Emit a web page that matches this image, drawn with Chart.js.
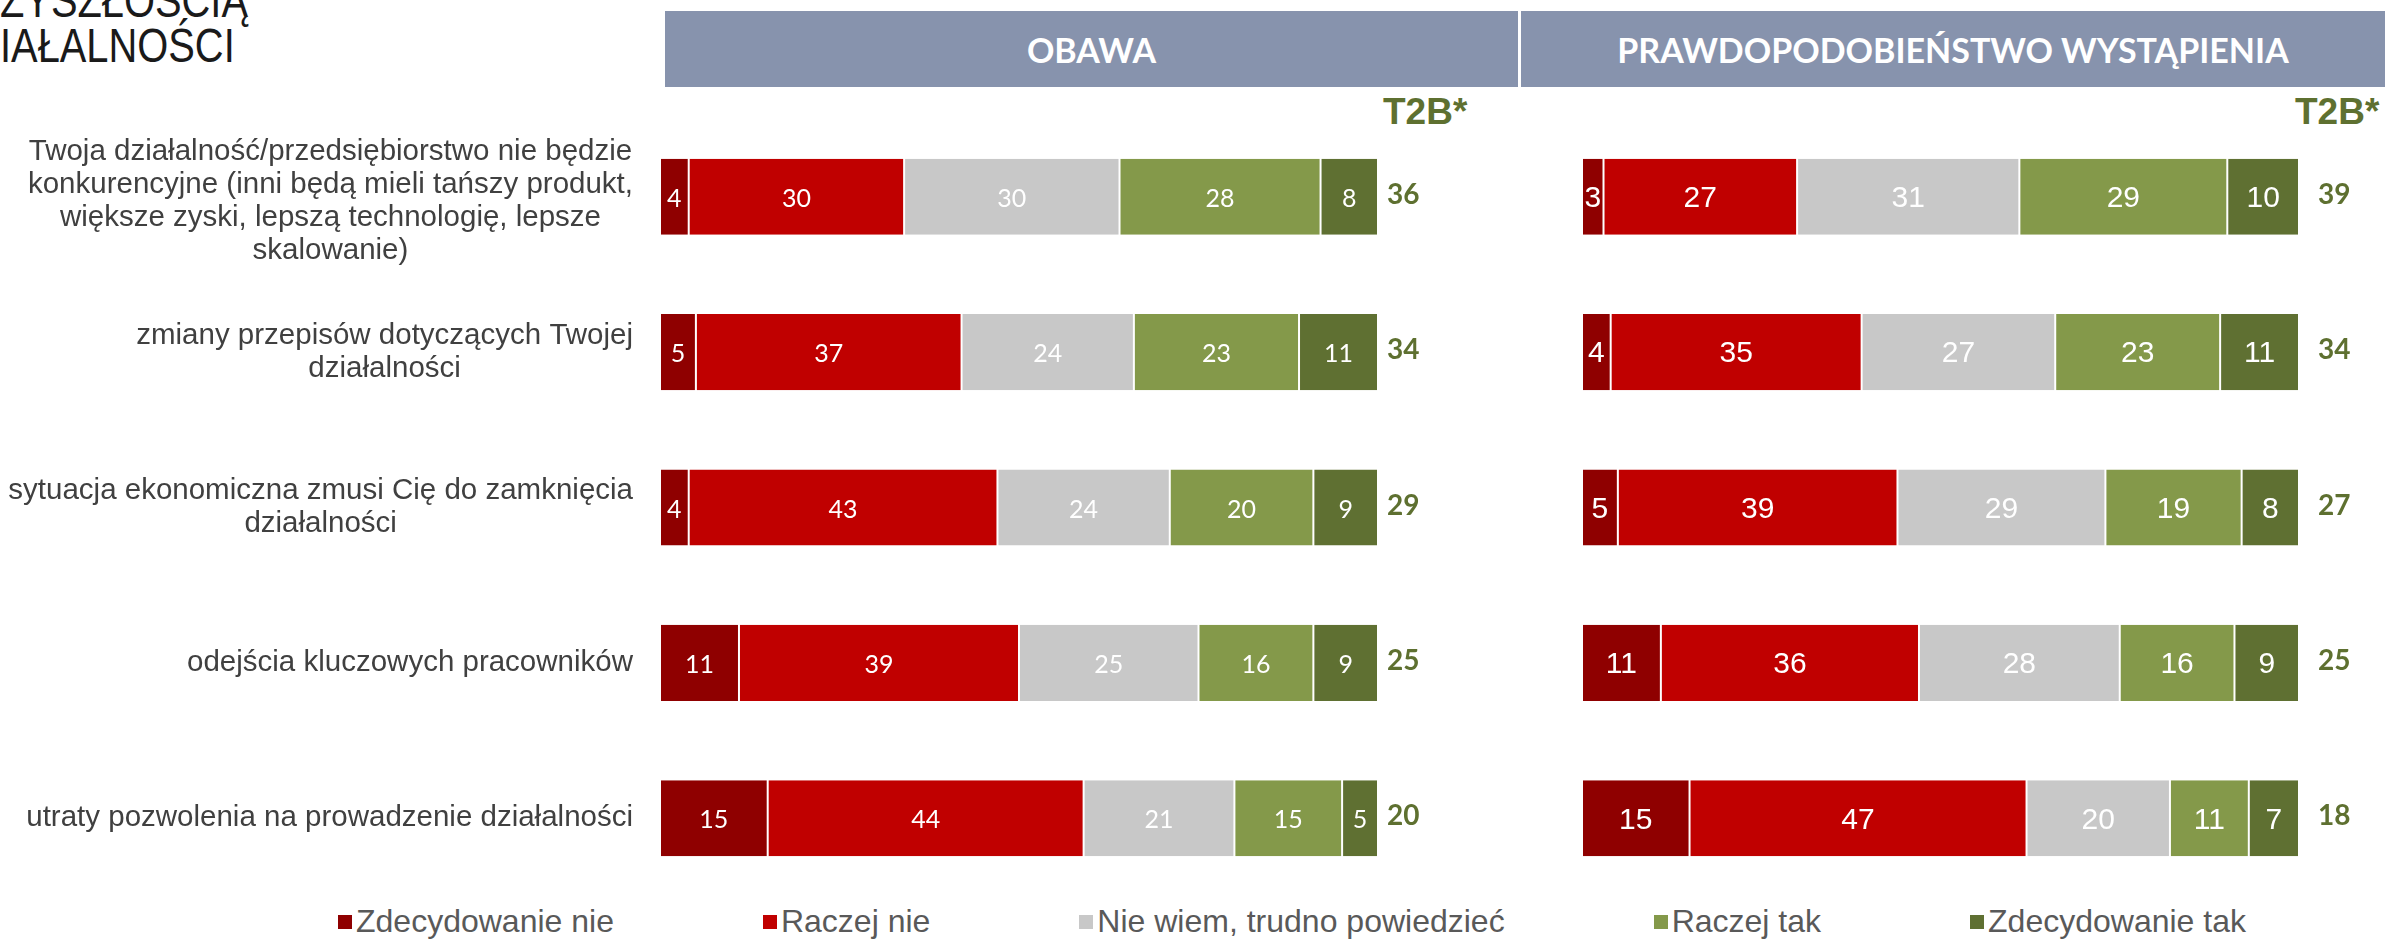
<!DOCTYPE html>
<html lang="pl">
<head>
<meta charset="utf-8">
<title>Obawy związane z przyszłością działalności</title>
<script src="https://cdn.jsdelivr.net/npm/chart.js@4.4.1/dist/chart.umd.min.js"></script>
<style>
    body { margin: 0; width: 2385px; height: 939px; overflow: hidden; background: #fff; position: relative; font-family: 'Liberation Sans', Arial, sans-serif; }
    .title { position: absolute; left: 0; top: -22px; font-size: 48px; line-height: 45px; color: #1a1a1a; transform: scaleX(0.83); transform-origin: left top; white-space: nowrap; }
    .panel-head { position: absolute; top: 11px; height: 76px; background: #8793ad; color: #fff; font-family: Lato, 'Open Sans', sans-serif; font-weight: bold; font-size: 34px; display: flex; align-items: center; justify-content: center; }
    .t2b-head { position: absolute; top: 91px; font-size: 37px; font-weight: bold; color: #5e7030; }
    canvas { position: absolute; }
    .legend { position: absolute; left: 338px; top: 903px; display: flex; gap: 149px; font-size: 32px; color: #595959; white-space: nowrap; }
    .legend span { display: flex; align-items: center; }
    .legend i { display: inline-block; width: 14px; height: 14px; margin-right: 4px; }
</style>
</head>
<body>
<div class="title">ZYSZŁOŚCIĄ<br>IAŁALNOŚCI</div>
<div class="panel-head" style="left:665px; width:853px;">OBAWA</div>
<div class="panel-head" style="left:1521px; width:864px;">PRAWDOPODOBIEŃSTWO WYSTĄPIENIA</div>
<div class="t2b-head" style="left:1383px;">T2B*</div>
<div class="t2b-head" style="left:2295px;">T2B*</div>

<canvas id="leftChart" style="left:0; top:119px;" width="1500" height="777"></canvas>
<canvas id="rightChart" style="left:1500px; top:119px;" width="885" height="777"></canvas>
<div class="legend" id="legend"></div>

<script>
// ---- data ----
const categories = [
    ['Twoja działalność/przedsiębiorstwo nie będzie', 'konkurencyjne (inni będą mieli tańszy produkt,', 'większe zyski, lepszą technologię, lepsze', 'skalowanie)'],
    ['zmiany przepisów dotyczących Twojej', 'działalności'],
    ['sytuacja ekonomiczna zmusi Cię do zamknięcia', 'działalności'],
    ['odejścia kluczowych pracowników'],
    ['utraty pozwolenia na prowadzenie działalności']
];
const seriesNames = ['Zdecydowanie nie', 'Raczej nie', 'Nie wiem, trudno powiedzieć', 'Raczej tak', 'Zdecydowanie tak'];

// OBAWA
const obawaZdecydowanieNie = [4, 5, 4, 11, 15];
const obawaRaczejNie = [30, 37, 43, 39, 44];
const obawaNieWiem = [30, 24, 24, 25, 21];
const obawaRaczejTak = [28, 23, 20, 16, 15];
const obawaZdecydowanieTak = [8, 11, 9, 9, 5];
const obawaT2B = [36, 34, 29, 25, 20];

// PRAWDOPODOBIEŃSTWO WYSTĄPIENIA
const prawdZdecydowanieNie = [3, 4, 5, 11, 15];
const prawdRaczejNie = [27, 35, 39, 36, 47];
const prawdNieWiem = [31, 27, 29, 28, 20];
const prawdRaczejTak = [29, 23, 19, 16, 11];
const prawdZdecydowanieTak = [10, 11, 8, 9, 7];
const prawdT2B = [39, 34, 27, 25, 18];

const seriesColors = ['#8f0000', '#c00000', '#c8c8c8', '#84994a', '#5f7032'];
const t2bColor = '#5e7030';

// ---- legend ----
document.getElementById('legend').innerHTML = seriesNames.map((name, i) =>
    `<span><i style="background:${seriesColors[i]}"></i>${name}</span>`).join('');

// draws values inside segments and the T2B number after each bar
function valueLabels(t2b, labelFont, t2bFont, t2bGap) {
    return {
        id: 'valueLabels',
        afterDatasetsDraw(chart) {
            const ctx = chart.ctx;
            ctx.save();
            ctx.textBaseline = 'middle';
            ctx.textAlign = 'center';
            ctx.font = labelFont;
            ctx.fillStyle = '#ffffff';
            chart.data.datasets.forEach((ds, di) => {
                chart.getDatasetMeta(di).data.forEach((bar, i) => {
                    ctx.fillText(String(ds.data[i]), (bar.x + bar.base) / 2, bar.y + 2);
                });
            });
            const xs = chart.scales.x, ys = chart.scales.y;
            ctx.textAlign = 'left';
            ctx.font = t2bFont;
            ctx.fillStyle = t2bColor;
            t2b.forEach((v, i) => {
                ctx.fillText(String(v), xs.getPixelForValue(100) + t2bGap, ys.getPixelForValue(i) - 2);
            });
            ctx.restore();
        }
    };
}

// category labels: block right-aligned, lines centred inside it
const categoryLabels = {
    id: 'categoryLabels',
    afterDraw(chart) {
        const ctx = chart.ctx, ys = chart.scales.y;
        const right = chart.chartArea.left - 27;
        const lh = 33;
        ctx.save();
        ctx.font = '29.5px "Liberation Sans", Arial, sans-serif';
        ctx.fillStyle = '#404040';
        ctx.textAlign = 'center';
        ctx.textBaseline = 'middle';
        categories.forEach((lines, i) => {
            const w = Math.max(...lines.map(l => ctx.measureText(l).width));
            const cx = right - w / 2;
            const cy = ys.getPixelForValue(i) + (lines.length > 2 ? 5 : 0);
            lines.forEach((l, k) => {
                ctx.fillText(l, cx, cy + (k - (lines.length - 1) / 2) * lh);
            });
        });
        ctx.restore();
    }
};

function buildChart(id, seriesData, t2b, padding, labelFont, t2bFont, t2bGap, extraPlugins) {
    return new Chart(document.getElementById(id), {
        type: 'bar',
        data: {
            labels: categories.map(c => c.join(' ')),
            datasets: seriesData.map((d, i) => ({
                label: seriesNames[i],
                data: d,
                backgroundColor: seriesColors[i],
                borderColor: '#ffffff',
                borderWidth: { left: 1, right: 1, top: 0, bottom: 0 },
                borderSkipped: false,
                categoryPercentage: 1,
                barPercentage: 0.49
            }))
        },
        options: {
            indexAxis: 'y',
            responsive: false,
            animation: false,
            layout: { padding: padding },
            plugins: { legend: { display: false }, tooltip: { enabled: false } },
            scales: {
                x: { stacked: true, min: 0, max: 100, display: false },
                y: { stacked: true, display: false }
            }
        },
        plugins: [valueLabels(t2b, labelFont, t2bFont, t2bGap)].concat(extraPlugins)
    });
}

buildChart('leftChart',
    [obawaZdecydowanieNie, obawaRaczejNie, obawaNieWiem, obawaRaczejTak, obawaZdecydowanieTak],
    obawaT2B,
    { left: 660, right: 122, top: 0, bottom: 0 },
    '25px Lato, "Open Sans", sans-serif',
    'bold 28px Lato, "Open Sans", sans-serif',
    9,
    [categoryLabels]);

buildChart('rightChart',
    [prawdZdecydowanieNie, prawdRaczejNie, prawdNieWiem, prawdRaczejTak, prawdZdecydowanieTak],
    prawdT2B,
    { left: 82, right: 86, top: 0, bottom: 0 },
    '30px "Liberation Sans", Arial, sans-serif',
    'bold 28px Lato, "Open Sans", sans-serif',
    19,
    []);
</script>
</body>
</html>
